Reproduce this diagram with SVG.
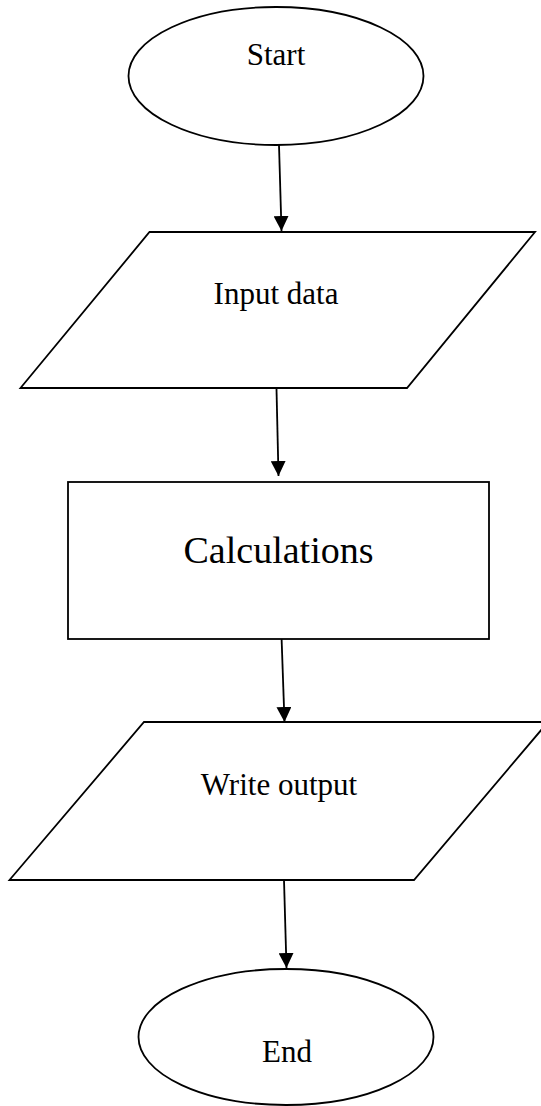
<svg xmlns="http://www.w3.org/2000/svg" width="541" height="1106" viewBox="0 0 541 1106">
  <defs>
    <marker id="arrowhead" viewBox="0 0 15 15" refX="15" refY="7.5" markerWidth="15" markerHeight="15" markerUnits="userSpaceOnUse" orient="auto">
      <path d="M0,0 L15,7.5 L0,15 Z" fill="#000"/>
    </marker>
    <style>
      .shape { fill: #fff; stroke: #000; stroke-width: 1.8; }
      .label { font-family: "Liberation Serif", "Times New Roman", serif; font-size: 31px; fill: #000; text-anchor: middle; }
      .big { font-size: 38px; }
      .flow { fill: none; stroke: #000; stroke-width: 1.8; marker-end: url(#arrowhead); }
    </style>
  </defs>
  <rect width="541" height="1106" fill="#fff"/>

  <g id="connectors">
    <line class="flow" x1="279" y1="145" x2="281.5" y2="231"/>
    <line class="flow" x1="276.5" y1="389" x2="278.5" y2="476"/>
    <line class="flow" x1="281.5" y1="636" x2="284.5" y2="722"/>
    <line class="flow" x1="284" y1="880" x2="286.5" y2="968"/>
  </g>

  <g id="start">
    <ellipse class="shape" cx="276" cy="76" rx="147.5" ry="69"/>
    <text class="label" x="276" y="65">Start</text>
  </g>

  <g id="input-data">
    <polygon class="shape" points="149.5,232 535,232 407,388 20.5,388"/>
    <text class="label" x="276" y="304">Input data</text>
  </g>

  <g id="calculations">
    <rect class="shape" x="68" y="482" width="421" height="157"/>
    <text class="label big" x="278.5" y="563">Calculations</text>
  </g>

  <g id="write-output">
    <polygon class="shape" points="144,722 548,722 414,880 9.5,880"/>
    <text class="label" x="279" y="795">Write output</text>
  </g>

  <g id="end">
    <ellipse class="shape" cx="286" cy="1037" rx="147.5" ry="68"/>
    <text class="label" x="287" y="1062">End</text>
  </g>
</svg>
